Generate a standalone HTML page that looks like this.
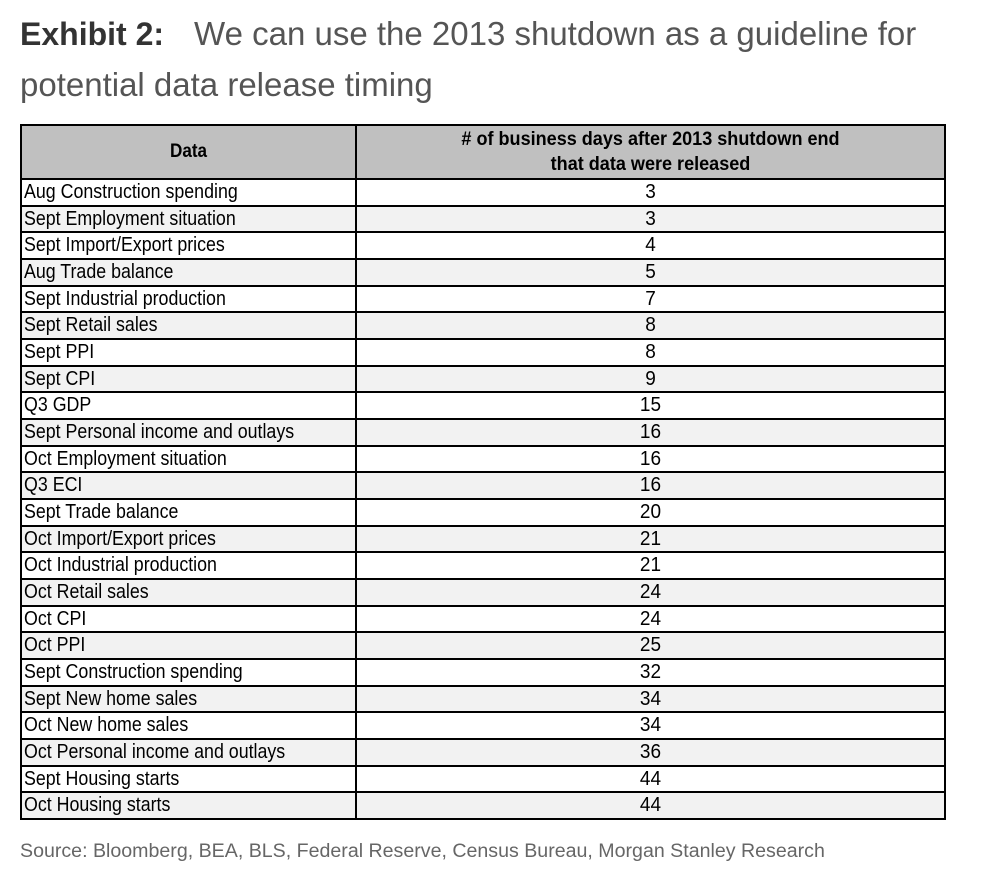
<!DOCTYPE html>
<html><head><meta charset="utf-8"><style>
body{margin:0;background:#fff;width:990px;height:882px;position:relative;overflow:hidden;font-family:"Liberation Sans",sans-serif}
.t{position:absolute;white-space:nowrap}
#tbl{position:absolute;left:20px;top:124px;width:926px;height:696px;border:2px solid #000;box-sizing:border-box}
.r{position:absolute;left:0;width:922px;height:27px;border-top:2px solid #000;box-sizing:border-box}
.r span{position:absolute;font-size:20px;line-height:24px;top:0;white-space:nowrap}
.l{left:2px;transform:scaleX(0.89);transform-origin:left}
.v{left:335px;width:587px;text-align:center;transform:scaleX(0.95)}
.d{position:absolute;left:333px;top:0;width:2px;height:692px;background:#000}
</style></head><body>
<div class="t" style="left:20px;top:15px;font-size:32px;color:#333"><b>Exhibit 2:</b><span style="color:#555;margin-left:30px;font-size:33px">We can use the 2013 shutdown as a guideline for</span></div>
<div class="t" style="left:20px;top:66px;font-size:33px;color:#555">potential data release timing</div>
<div id="tbl">
<div style="position:absolute;left:0;top:0;width:922px;height:52px;background:#c0c0c0"></div>
<div class="t" style="left:0;width:333px;top:15px;text-align:center;font-weight:bold;font-size:19px;transform:scaleX(0.9)">Data</div>
<div class="t" style="left:335px;width:587px;top:1px;text-align:center;font-weight:bold;font-size:19px;line-height:25px;transform:scaleX(0.95)">
# of business days after 2013 shutdown end<br>that data were released</div>
<div id="rows"></div>
<div class="d"></div>
</div>
<div class="t" style="left:20px;top:840px;font-size:19.6px;color:#666">Source: Bloomberg, BEA, BLS, Federal Reserve, Census Bureau, Morgan Stanley Research</div>
<script>
var d=[["Aug Construction spending",3],["Sept Employment situation",3],["Sept Import/Export prices",4],["Aug Trade balance",5],["Sept Industrial production",7],["Sept Retail sales",8],["Sept PPI",8],["Sept CPI",9],["Q3 GDP",15],["Sept Personal income and outlays",16],["Oct Employment situation",16],["Q3 ECI",16],["Sept Trade balance",20],["Oct Import/Export prices",21],["Oct Industrial production",21],["Oct Retail sales",24],["Oct CPI",24],["Oct PPI",25],["Sept Construction spending",32],["Sept New home sales",34],["Oct New home sales",34],["Oct Personal income and outlays",36],["Sept Housing starts",44],["Oct Housing starts",44]];
var h="";
for(var i=0;i<d.length;i++){var y=52+i*26.67;
h+='<div class="r" style="top:'+y+'px;background:'+(i%2?'#f2f2f2':'#fff')+'"><span class="l">'+d[i][0]+'</span><span class="v">'+d[i][1]+'</span></div>';}
document.getElementById("rows").innerHTML=h;
</script>
</body></html>
